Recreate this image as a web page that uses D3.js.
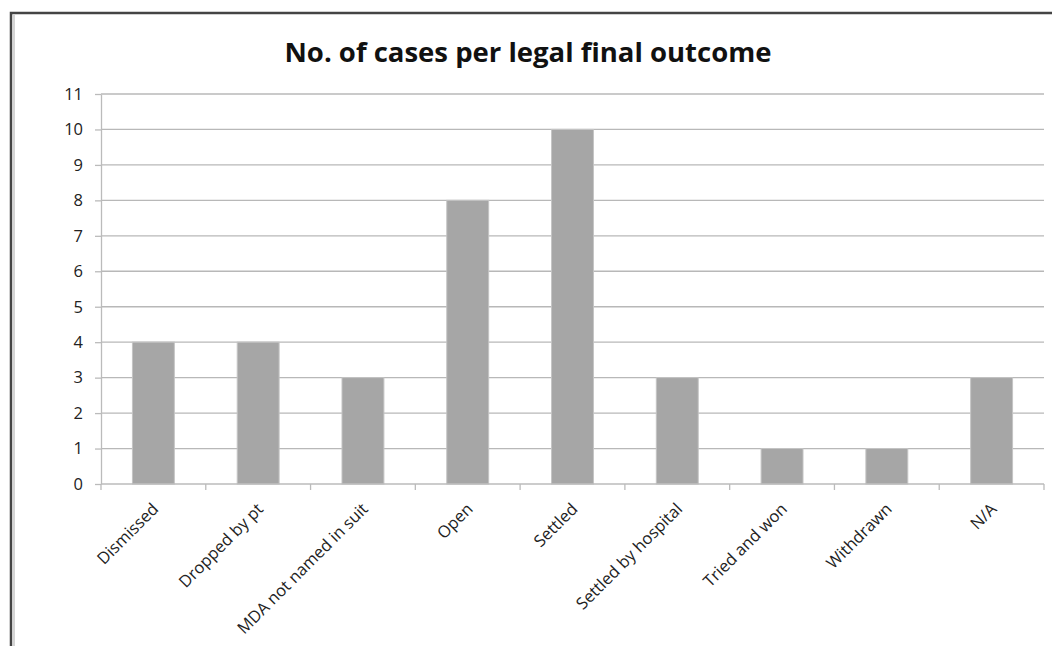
<!DOCTYPE html>
<html>
<head>
<meta charset="utf-8">
<script src="https://cdn.jsdelivr.net/npm/d3@7"></script>
<style>
  body { margin: 0; background: #fff; }
  svg { display: block; font-family: "Open Sans", "Liberation Sans", sans-serif; }
</style>
</head>
<body>
<svg id="chart" width="1052" height="646"></svg>
<script>
const categories = ['Dismissed', 'Dropped by pt', 'MDA not named in suit', 'Open', 'Settled',
  'Settled by hospital', 'Tried and won', 'Withdrawn', 'N/A'];
const counts = [4, 4, 3, 8, 10, 3, 1, 1, 3];
const yTicks = d3.range(0, 12);

const svg = d3.select('#chart');
const margin = { top: 94, left: 101, right: 8, bottom: 162 };
const W = 1052, H = 646;

// outer frame, open at right and bottom like the cropped original
svg.append('path')
  .attr('d', `M11,${H} L11,13 L${W},13`)
  .attr('fill', 'none')
  .attr('stroke', '#444')
  .attr('stroke-width', 2.5);
svg.append('line')
  .attr('x1', 14).attr('x2', 14).attr('y1', 15).attr('y2', H)
  .attr('stroke', '#aaa').attr('stroke-width', 1);

const x = d3.scaleBand()
  .domain(categories)
  .range([margin.left, W - margin.right])
  .paddingInner(0.6)
  .paddingOuter(0.3);

const y = d3.scaleLinear()
  .domain([0, 11])
  .range([H - margin.bottom, margin.top]);

// gridlines
svg.append('g')
  .selectAll('line')
  .data(yTicks.filter(d => d > 0))
  .join('line')
  .attr('x1', margin.left).attr('x2', W - margin.right)
  .attr('y1', d => y(d)).attr('y2', d => y(d))
  .attr('stroke', '#b8b8b8').attr('stroke-width', 1.3);

// bars
svg.append('g')
  .selectAll('rect')
  .data(categories)
  .join('rect')
  .attr('x', d => x(d))
  .attr('width', x.bandwidth())
  .attr('y', (d, i) => y(counts[i]))
  .attr('height', (d, i) => y(0) - y(counts[i]))
  .attr('fill', '#a6a6a6')
  .attr('stroke', '#c4c4c4')
  .attr('stroke-width', 1);

// y axis
const yAxis = svg.append('g')
  .attr('transform', `translate(${margin.left},0)`)
  .call(d3.axisLeft(y).tickValues(yTicks).tickSize(6).tickPadding(12).tickSizeOuter(0));
yAxis.attr('font-family', null).attr('font-size', null);
yAxis.select('.domain').attr('stroke', '#bbb').attr('stroke-width', 1.3);
yAxis.selectAll('.tick line').attr('stroke', '#bbb').attr('stroke-width', 1.3);
yAxis.selectAll('.tick text').style('font-size', '16.5px').attr('fill', '#222');

// x axis with boundary ticks between categories
const xg = svg.append('g').attr('transform', `translate(0,${y(0)})`);
xg.append('line')
  .attr('x1', margin.left).attr('x2', W - margin.right)
  .attr('stroke', '#bbb').attr('stroke-width', 1.3);
const bounds = d3.range(categories.length + 1).map(i => margin.left + i * (W - margin.right - margin.left) / categories.length);
xg.selectAll('line.tk')
  .data(bounds)
  .join('line')
  .attr('class', 'tk')
  .attr('x1', d => d).attr('x2', d => d)
  .attr('y1', 0).attr('y2', 6)
  .attr('stroke', '#bbb').attr('stroke-width', 1.3);
xg.selectAll('text')
  .data(categories)
  .join('text')
  .attr('transform', d => `translate(${x(d) + x.bandwidth() / 2 + 2},${22}) rotate(-45)`)
  .attr('text-anchor', 'end')
  .attr('dy', '0.35em')
  .style('font-size', '16.5px')
  .attr('fill', '#222')
  .text(d => d);

// title
svg.append('text')
  .attr('x', 528)
  .attr('y', 62)
  .attr('text-anchor', 'middle')
  .style('font-size', '27.5px')
  .attr('font-weight', 'bold')
  .attr('fill', '#111')
  .text('No. of cases per legal final outcome');
</script>
</body>
</html>
